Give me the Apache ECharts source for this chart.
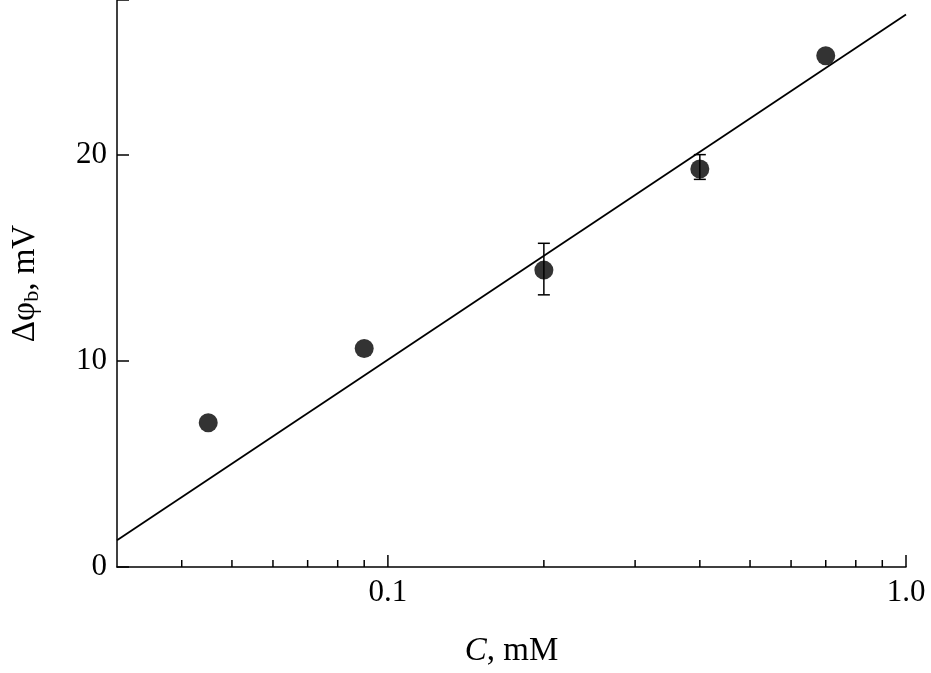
<!DOCTYPE html>
<html>
<head>
<meta charset="UTF-8">
<script src="https://cdn.jsdelivr.net/npm/echarts@6/dist/echarts.min.js"></script>
<style>
  body { margin: 0; background: #fff; }
  #chart { width: 931px; height: 673px; }
</style>
</head>
<body>
<div id="chart"></div>
<script>
  // data
  var concs = [0.045, 0.09, 0.2, 0.4, 0.7];
  var potentials = [7.0, 10.6, 14.4, 19.3, 24.8];
  var errLow = [null, null, 13.2, 18.8, null];
  var errHigh = [null, null, 15.7, 20.0, null];
  var fitX = [0.03, 1.0];
  var fitY = [1.3, 26.8];
  var majorTicks = [0.1, 1.0];
  var majorLabels = ['0.1', '1.0'];
  var minorTicks = [0.04, 0.05, 0.06, 0.07, 0.08, 0.09, 0.2, 0.3, 0.4, 0.5, 0.6, 0.7, 0.8, 0.9];

  var lg = Math.log10;
  var serif = 'Liberation Serif';

  var pts = concs.map(function (c, i) { return [lg(c), potentials[i]]; });
  var errs = [];
  concs.forEach(function (c, i) {
    if (errLow[i] != null) errs.push([lg(c), errLow[i], errHigh[i]]);
  });
  var tickData = majorTicks.map(function (t) { return [lg(t), 1]; })
    .concat(minorTicks.map(function (t) { return [lg(t), 0]; }));

  var chart = echarts.init(document.getElementById('chart'));
  chart.setOption({
    animation: false,
    grid: { left: 117, right: 25, top: 0, bottom: 95 },
    xAxis: {
      type: 'value', min: lg(0.03), max: 0,
      axisLine: { lineStyle: { color: '#000', width: 1.5 } },
      axisTick: { show: false }, axisLabel: { show: false }, splitLine: { show: false },
      name: '{i|C}, mM', nameLocation: 'middle', nameGap: 68,
      nameTextStyle: { fontFamily: serif, fontSize: 33, color: '#000',
        rich: { i: { fontFamily: serif, fontSize: 33, fontStyle: 'italic' } } }
    },
    yAxis: {
      type: 'value', min: 0, max: 27.5, interval: 10,
      axisLine: { show: true, onZero: false, lineStyle: { color: '#000', width: 1.5 } },
      axisTick: { inside: true, length: 12, lineStyle: { color: '#000', width: 1.5 } },
      axisLabel: { fontFamily: serif, fontSize: 31, color: '#000', margin: 10,
        formatter: function (v) { return v % 10 === 0 ? v : ''; } },
      splitLine: { show: false },
      name: 'Δφ{s|b}, mV', nameLocation: 'middle', nameGap: 74, nameRotate: 90,
      nameTextStyle: { fontFamily: serif, fontSize: 33, color: '#000',
        rich: { s: { fontFamily: serif, fontSize: 22, verticalAlign: 'bottom', padding: [14, 0, 0, 0] } } }
    },
    series: [
      {
        type: 'line', data: fitX.map(function (x, i) { return [lg(x), fitY[i]]; }),
        showSymbol: false, lineStyle: { color: '#000', width: 1.8 }
      },
      {
        type: 'custom', data: errs,
        renderItem: function (params, api) {
          var x = api.value(0);
          var lo = api.coord([x, api.value(1)]);
          var hi = api.coord([x, api.value(2)]);
          var st = { stroke: '#000', lineWidth: 1.5 };
          return { type: 'group', children: [
            { type: 'line', shape: { x1: lo[0], y1: lo[1], x2: hi[0], y2: hi[1] }, style: st },
            { type: 'line', shape: { x1: lo[0] - 6, y1: lo[1], x2: lo[0] + 6, y2: lo[1] }, style: st },
            { type: 'line', shape: { x1: hi[0] - 6, y1: hi[1], x2: hi[0] + 6, y2: hi[1] }, style: st }
          ] };
        }
      },
      {
        type: 'scatter', data: pts, symbolSize: 19,
        itemStyle: { color: '#000' }, z: 5
      },
      {
        // log-axis ticks and labels
        type: 'custom', data: tickData, clip: false,
        renderItem: function (params, api) {
          var p = api.coord([api.value(0), 0]);
          var major = api.value(1) === 1;
          var len = major ? 12 : 7;
          var children = [
            { type: 'line', shape: { x1: p[0], y1: p[1], x2: p[0], y2: p[1] - len },
              style: { stroke: '#000', lineWidth: 1.5 } }
          ];
          if (major) {
            children.push({ type: 'text', x: p[0], y: p[1] + 10,
              style: { text: majorLabels[params.dataIndex], fontFamily: serif, fontSize: 31, fill: '#000',
                align: 'center', verticalAlign: 'top' } });
          }
          return { type: 'group', children: children };
        }
      }
    ]
  });
</script>
</body>
</html>
